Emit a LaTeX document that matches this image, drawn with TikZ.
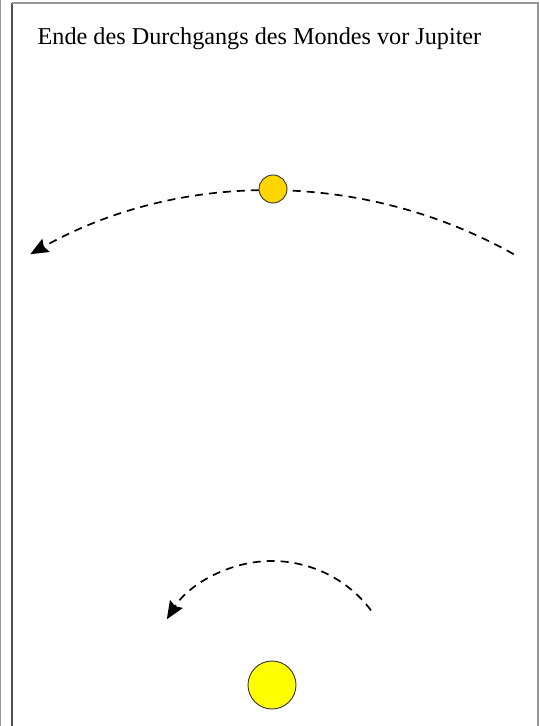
\documentclass[tikz,border=0pt]{standalone}
\usepackage{fontspec}
\setmainfont{Liberation Serif}
\usetikzlibrary{arrows.meta}
\definecolor{framegray}{RGB}{150,150,150}
\definecolor{darkframe}{RGB}{80,80,80}
\definecolor{moongold}{RGB}{255,214,0}
\definecolor{jupyellow}{RGB}{255,255,0}

\begin{document}
\begin{tikzpicture}[x=1pt, y=1pt,
    orbit/.style={line width=1.7pt, dash pattern=on 8pt off 6pt, -{Stealth[length=18pt, width=15pt, inset=2.5pt]}},
    body/.style={circle, draw=black!80, line width=0.9pt, inner sep=0pt}]
    \useasboundingbox (0,0) rectangle (539,726);
    % Frame (left double rule, top and right rules)
    \draw[framegray, line width=1.2pt] (0.8,0) -- (0.8,726);
    \draw[darkframe, line width=2pt] (12,0) -- (12,723);
    \draw[framegray, line width=1.4pt] (12,723) -- (538,723) -- (538,0);

    % Title
    \node[font=\fontsize{24.2}{28}\selectfont, anchor=base, inner sep=0pt] (title) at (259.5,681) {Ende des Durchgangs des Mondes vor Jupiter};

    % Orbits around Jupiter
    \coordinate (jc) at (272,41);
    \draw[orbit] (jc) ++(60.7:494) arc[start angle=60.7, end angle=119.3, radius=494];
    \draw[orbit] (jc) ++(37:124) arc[start angle=37, end angle=148, radius=124];

    % Moon and Jupiter
    \node[body, fill=moongold, minimum size=28pt] (moon) at (273,537) {};
    \node[body, fill=jupyellow, minimum size=48pt] (jupiter) at (jc) {};
\end{tikzpicture}
\end{document}
